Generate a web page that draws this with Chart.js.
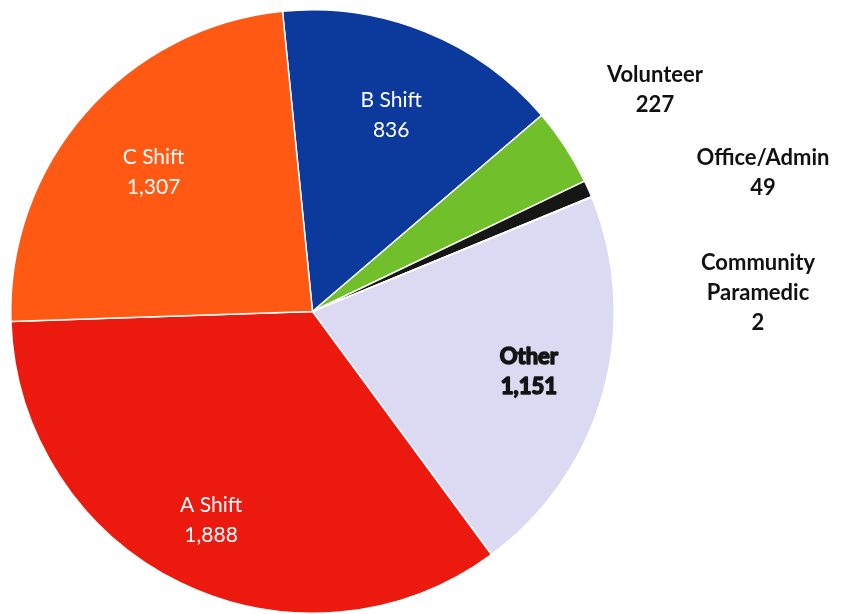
<!DOCTYPE html>
<html>
<head>
<meta charset="utf-8">
<script src="https://cdn.jsdelivr.net/npm/chart.js@4.4.1/dist/chart.umd.min.js"></script>
<style>
  html, body { margin: 0; padding: 0; background: #fff; }
  #wrap { width: 843px; height: 614px; }
</style>
</head>
<body>
<div id="wrap"><canvas id="shiftPie" width="843" height="614"></canvas></div>
<script>
const categories = ['B Shift', 'Volunteer', 'Office/Admin', 'Community Paramedic', 'Other', 'A Shift', 'C Shift'];
const counts = [836, 227, 49, 2, 1151, 1888, 1307];
const sliceColors = ['#0b3a9c', '#72bf2c', '#161616', '#8a8a8a', '#dcdaf3', '#ec190f', '#ff5914'];

// inside labels: radius fraction along slice mid angle
const insideLabels = {
  'B Shift': { r: 0.70, color: '#ffffff', font: 'normal 21px', heavy: false },
  'C Shift': { r: 0.70, color: '#ffffff', font: 'normal 21px', heavy: false },
  'A Shift': { r: 0.77, color: '#ffffff', font: 'normal 21px', heavy: false },
  'Other':   { r: 0.745, color: '#141414', font: 'bold 22px', heavy: true }
};
// outside labels, placed in the right margin
const outsideLabels = {
  'Volunteer':           { x: 655, y: 75, lines: ['Volunteer'] },
  'Office/Admin':        { x: 763, y: 158, lines: ['Office/Admin'] },
  'Community Paramedic': { x: 758, y: 263, lines: ['Community', 'Paramedic'] }
};

const fmt = v => v.toLocaleString('en-US');

const sliceLabels = {
  id: 'sliceLabels',
  afterDatasetsDraw(chart) {
    const ctx = chart.ctx;
    const meta = chart.getDatasetMeta(0);
    ctx.save();
    ctx.textAlign = 'center';
    ctx.textBaseline = 'middle';
    meta.data.forEach((arc, i) => {
      const name = categories[i];
      const val = fmt(counts[i]);
      if (insideLabels[name]) {
        const cfg = insideLabels[name];
        const mid = (arc.startAngle + arc.endAngle) / 2;
        const rr = arc.outerRadius * cfg.r;
        const x = arc.x + Math.cos(mid) * rr;
        const y = arc.y + Math.sin(mid) * rr;
        ctx.fillStyle = cfg.color;
        ctx.font = cfg.font + ' Lato, "Open Sans", sans-serif';
        if (cfg.heavy) {
          ctx.strokeStyle = cfg.color;
          ctx.lineWidth = 1.6;
          ctx.lineJoin = 'round';
          ctx.strokeText(name, x, y - 15);
          ctx.strokeText(val, x, y + 15);
        }
        ctx.fillText(name, x, y - 15);
        ctx.fillText(val, x, y + 15);
      } else if (outsideLabels[name]) {
        const cfg = outsideLabels[name];
        ctx.fillStyle = '#111111';
        ctx.font = 'bold 22px Lato, "Open Sans", sans-serif';
        const lines = cfg.lines.concat([val]);
        lines.forEach((t, k) => ctx.fillText(t, cfg.x, cfg.y + k * 30));
      }
    });
    ctx.restore();
  }
};

new Chart(document.getElementById('shiftPie').getContext('2d'), {
  type: 'pie',
  data: {
    labels: categories,
    datasets: [{
      data: counts,
      backgroundColor: sliceColors,
      borderColor: '#ffffff',
      borderWidth: 1.5
    }]
  },
  options: {
    responsive: false,
    animation: false,
    rotation: -5.7,
    layout: { padding: { left: 10, right: 228, top: 9, bottom: 0 } },
    plugins: {
      legend: { display: false },
      tooltip: { enabled: false }
    }
  },
  plugins: [sliceLabels]
});
</script>
</body>
</html>
